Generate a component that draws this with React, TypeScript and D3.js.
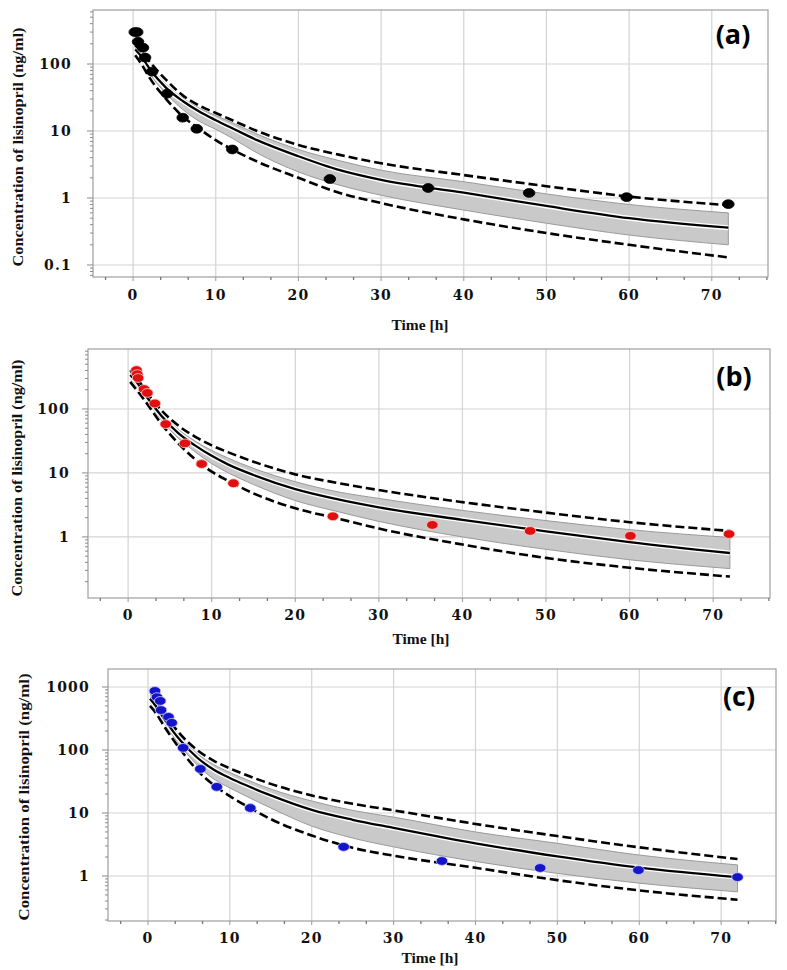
import React from "react";
import * as d3 from "d3";

// ---------- shared ----------
const timeTicks = [0, 10, 20, 30, 40, 50, 60, 70];
const simTime = [0.25, 1, 2, 4, 6, 8, 10, 12, 15, 20, 25, 30, 40, 50, 60, 72];

// ---------- panel (a) ----------
const aObsTime = [0.2, 0.5, 0.6, 1.2, 1.45, 2.3, 4.1, 6, 7.7, 12, 23.8, 35.7, 47.9, 59.7, 72];
const aObsConc = [300, 300, 215, 175, 125, 77, 36, 15.8, 10.8, 5.3, 1.92, 1.41, 1.19, 1.03, 0.81];
const aUpper = [190, 155, 108, 58, 34, 24, 18.6, 14.5, 10, 6.2, 4.4, 3.3, 2.2, 1.5, 1.05, 0.78];
const aBandHigh = [175, 140, 95, 50, 31, 22, 17, 13.3, 9, 5.3, 3.6, 2.6, 1.75, 1.15, 0.8, 0.6];
const aMedian = [165, 130, 85, 44, 28, 19.5, 14.5, 11, 7.3, 4.2, 2.6, 1.86, 1.2, 0.76, 0.5, 0.36];
const aBandLow = [150, 115, 72, 36, 21, 14, 10.6, 7.8, 4.7, 2.45, 1.55, 1.1, 0.66, 0.42, 0.28, 0.2];
const aLower = [135, 100, 62, 30, 16.5, 10.8, 7.3, 5.3, 3.5, 2.0, 1.19, 0.84, 0.48, 0.3, 0.2, 0.13];
const aYTicks = [0.1, 1, 10, 100];

// ---------- panel (b) ----------
const bObsTime = [1.0, 1.1, 1.2, 1.9, 2.3, 3.2, 4.5, 6.8, 8.8, 12.6, 24.5, 36.4, 48.1, 60.1, 71.9];
const bObsConc = [405, 350, 305, 205, 178, 122, 58, 29, 13.8, 6.9, 2.1, 1.54, 1.24, 1.04, 1.11];
const bUpper = [405, 310, 200, 95, 55, 37, 27, 21, 15, 9.5, 7, 5.4, 3.5, 2.4, 1.7, 1.24];
const bBandHigh = [375, 285, 185, 86, 48, 31.5, 22.5, 17, 11.8, 7.3, 5.1, 4.0, 2.6, 1.8, 1.3, 0.98];
const bMedian = [340, 265, 170, 78, 42, 27, 18.5, 13.5, 9.3, 5.6, 3.9, 2.9, 1.85, 1.22, 0.83, 0.56];
const bBandLow = [300, 230, 150, 67, 35, 21.5, 14, 10, 6.6, 3.7, 2.5, 1.75, 1.0, 0.64, 0.44, 0.32];
const bLower = [265, 200, 135, 58, 29, 16.5, 10.5, 7.5, 4.8, 2.8, 1.95, 1.35, 0.76, 0.47, 0.33, 0.24];
const bYTicks = [1, 10, 100];

// ---------- panel (c) ----------
const cObsTime = [0.85, 1.1, 1.5, 1.6, 2.5, 2.9, 4.3, 6.4, 8.4, 12.5, 23.9, 35.9, 47.9, 59.9, 72];
const cObsConc = [865, 690, 600, 430, 335, 270, 108, 50, 26, 12, 2.9, 1.73, 1.34, 1.24, 0.96];
const cUpper = [900, 620, 380, 175, 100, 68, 51, 40, 29, 19, 14, 11, 6.7, 4.3, 2.85, 1.86];
const cBandHigh = [790, 570, 350, 160, 88, 59, 44, 34, 24, 15.5, 11, 8.6, 5.0, 3.3, 2.15, 1.5];
const cMedian = [650, 490, 310, 140, 76, 49, 36, 27.5, 19, 11.2, 7.8, 5.8, 3.3, 2.05, 1.36, 0.96];
const cBandLow = [570, 425, 265, 115, 58, 35, 25, 18.5, 12, 6.2, 4.0, 2.9, 1.7, 1.1, 0.77, 0.56];
const cLower = [500, 380, 235, 100, 48, 28, 18.5, 13, 8, 4.4, 2.8, 2.1, 1.35, 0.86, 0.59, 0.42];
const cYTicks = [1, 10, 100, 1000];

const yTitle = "Concentration of lisinopril (ng/ml)";
const xTitle = "Time [h]";

type PanelProps = {
  label: string;
  left: number; right: number; top: number; bottom: number;
  xDomain: [number, number];
  yDomain: [number, number];
  yTicks: number[];
  obsTime: number[]; obsConc: number[];
  upper: number[]; bandHigh: number[]; median: number[]; bandLow: number[]; lower: number[];
  pointColor: string;
  pointStroke: string;
  yLabelRight: number;
  yTitleX: number; yTitleCenter: number; yTitleLen: number;
  xLabelBaseline: number;
  xTitleX: number; xTitleBaseline: number;
  tagX: number; tagY: number;
};

function Panel(p: PanelProps) {
  const x = d3.scaleLinear().domain(p.xDomain).range([p.left, p.right]);
  const y = d3.scaleLog().domain(p.yDomain).range([p.bottom, p.top]);
  const idx = simTime.map((_, i) => i);
  const lineOf = (vals: number[]) =>
    d3.line<number>().x((i) => x(simTime[i])).y((i) => y(vals[i])).curve(d3.curveMonotoneX)(idx) || "";
  const band =
    d3.area<number>()
      .x((i) => x(simTime[i]))
      .y0((i) => y(p.bandLow[i]))
      .y1((i) => y(p.bandHigh[i]))
      .curve(d3.curveMonotoneX)(idx) || "";

  const [y0, y1] = p.yDomain;
  const minor: number[] = [];
  for (let e = Math.floor(Math.log10(y0)); e <= Math.ceil(Math.log10(y1)); e++) {
    for (let m = 1; m <= 9; m++) {
      const v = m * Math.pow(10, e);
      if (v >= y0 && v <= y1) minor.push(v);
    }
  }
  const xMinor: number[] = [];
  for (let k = -1; k <= 23; k++) {
    const v = (k * 10) / 3;
    if (k % 3 !== 0 && v >= p.xDomain[0] && v <= p.xDomain[1]) xMinor.push(v);
  }
  const gridColor = "#d3d3d3";
  const tickFont = "'DejaVu Serif', serif";
  const titleFont = "'Liberation Serif', 'Times New Roman', serif";
  const last = simTime.length - 1;

  return (
    <g>
      {/* grid */}
      {timeTicks.map((t) => (
        <line key={"gx" + t} x1={x(t)} x2={x(t)} y1={p.top} y2={p.bottom} stroke={gridColor} strokeWidth={1.2} />
      ))}
      {p.yTicks.map((v) => (
        <line key={"gy" + v} x1={p.left} x2={p.right} y1={y(v)} y2={y(v)} stroke={gridColor} strokeWidth={1.2} />
      ))}

      {/* prediction band */}
      <path d={band} fill="#c9c9c9" stroke="none" />
      <path d={lineOf(p.bandHigh)} fill="none" stroke="#9a9a9a" strokeWidth={1} />
      <path d={lineOf(p.bandLow)} fill="none" stroke="#9a9a9a" strokeWidth={1} />
      <line x1={x(simTime[last])} x2={x(simTime[last])} y1={y(p.bandHigh[last])} y2={y(p.bandLow[last])} stroke="#9a9a9a" strokeWidth={1} />

      {/* median */}
      <path d={lineOf(p.median)} fill="none" stroke="#ffffff" strokeWidth={5} />
      <path d={lineOf(p.median)} fill="none" stroke="#000" strokeWidth={2.3} />

      {/* 5th / 95th percentiles */}
      <path d={lineOf(p.upper)} fill="none" stroke="#000" strokeWidth={2.6} strokeDasharray="9,4" />
      <path d={lineOf(p.lower)} fill="none" stroke="#000" strokeWidth={2.6} strokeDasharray="9,4" />

      {/* observations */}
      {p.obsTime.map((t, i) => (
        <ellipse
          key={"o" + i}
          cx={x(t)}
          cy={y(p.obsConc[i])}
          rx={5.8}
          ry={4.4}
          fill={p.pointColor}
          stroke={p.pointStroke}
          strokeWidth={0.8}
        />
      ))}

      {/* frame */}
      <rect x={p.left} y={p.top} width={p.right - p.left} height={p.bottom - p.top} fill="none" stroke="#a6a6a6" strokeWidth={1.3} />

      {/* left axis ticks */}
      {minor.map((v, i) => (
        <line key={"ym" + i} x1={p.left - (p.yTicks.includes(v) ? 6 : 3)} x2={p.left} y1={y(v)} y2={y(v)} stroke="#8a8a8a" strokeWidth={1} />
      ))}
      {/* bottom axis ticks */}
      {xMinor.map((v, i) => (
        <line key={"xm" + i} x1={x(v)} x2={x(v)} y1={p.bottom} y2={p.bottom + 3} stroke="#777" strokeWidth={1.3} />
      ))}
      {timeTicks.map((t) => (
        <line key={"xt" + t} x1={x(t)} x2={x(t)} y1={p.bottom} y2={p.bottom + 4} stroke="#999" strokeWidth={1} />
      ))}

      {/* tick labels */}
      {p.yTicks.map((v) => (
        <text
          key={"yl" + v}
          x={p.yLabelRight}
          y={y(v)}
          dy="0.36em"
          textAnchor="end"
          fontFamily={tickFont}
          fontWeight="bold"
          fontSize={14}
          letterSpacing={1.2}
          fill="#111"
        >
          {String(v)}
        </text>
      ))}
      {timeTicks.map((t) => (
        <text
          key={"xl" + t}
          x={x(t)}
          y={p.xLabelBaseline}
          textAnchor="middle"
          fontFamily={tickFont}
          fontWeight="bold"
          fontSize={14}
          letterSpacing={1.2}
          fill="#111"
        >
          {String(t)}
        </text>
      ))}

      {/* titles */}
      <text
        transform={`translate(${p.yTitleX},${p.yTitleCenter}) rotate(-90)`}
        textAnchor="middle"
        dy="0.35em"
        fontFamily={titleFont}
        fontWeight="bold"
        fontSize={14}
        textLength={p.yTitleLen}
        lengthAdjust="spacingAndGlyphs"
        fill="#111"
      >
        {yTitle}
      </text>
      <text
        x={p.xTitleX}
        y={p.xTitleBaseline}
        textAnchor="middle"
        fontFamily={titleFont}
        fontWeight="bold"
        fontSize={15.5}
        fill="#111"
      >
        {xTitle}
      </text>
      <text
        x={p.tagX}
        y={p.tagY}
        textAnchor="middle"
        fontFamily="'Open Sans', 'Noto Sans', sans-serif"
        fontWeight="bold"
        fontSize={27}
        fill="#000"
      >
        {p.label}
      </text>
    </g>
  );
}

export default function App() {
  return (
    <svg
      width={787}
      height={970}
      viewBox="0 0 787 970"
      style={{ position: "absolute", left: 0, top: 0, display: "block", background: "#fff" }}
    >
      <rect x={0} y={0} width={787} height={970} fill="#fff" />
      <Panel
        label="(a)"
        left={93} right={768} top={10} bottom={277}
        xDomain={[-4.85, 76.8]}
        yDomain={[0.0662, 640]}
        yTicks={aYTicks}
        obsTime={aObsTime} obsConc={aObsConc}
        upper={aUpper} bandHigh={aBandHigh} median={aMedian} bandLow={aBandLow} lower={aLower}
        pointColor="#000" pointStroke="#000"
        yLabelRight={72}
        yTitleX={18} yTitleCenter={147} yTitleLen={239}
        xLabelBaseline={300}
        xTitleX={420} xTitleBaseline={330}
        tagX={733} tagY={44}
      />
      <Panel
        label="(b)"
        left={88} right={770} top={349} bottom={598}
        xDomain={[-4.8, 76.8]}
        yDomain={[0.111, 866]}
        yTicks={bYTicks}
        obsTime={bObsTime} obsConc={bObsConc}
        upper={bUpper} bandHigh={bBandHigh} median={bMedian} bandLow={bBandLow} lower={bLower}
        pointColor="#e01010" pointStroke="#ffd0d0"
        yLabelRight={70}
        yTitleX={17} yTitleCenter={478} yTitleLen={237}
        xLabelBaseline={620}
        xTitleX={421} xTitleBaseline={644}
        tagX={734} tagY={386}
      />
      <Panel
        label="(c)"
        left={108} right={776} top={669} bottom={921}
        xDomain={[-4.88, 76.7]}
        yDomain={[0.193, 1931]}
        yTicks={cYTicks}
        obsTime={cObsTime} obsConc={cObsConc}
        upper={cUpper} bandHigh={cBandHigh} median={cMedian} bandLow={cBandLow} lower={cLower}
        pointColor="#1414c8" pointStroke="#d0d0ff"
        yLabelRight={90}
        yTitleX={24} yTitleCenter={797} yTitleLen={247}
        xLabelBaseline={943}
        xTitleX={430} xTitleBaseline={963}
        tagX={739} tagY={706}
      />
    </svg>
  );
}
